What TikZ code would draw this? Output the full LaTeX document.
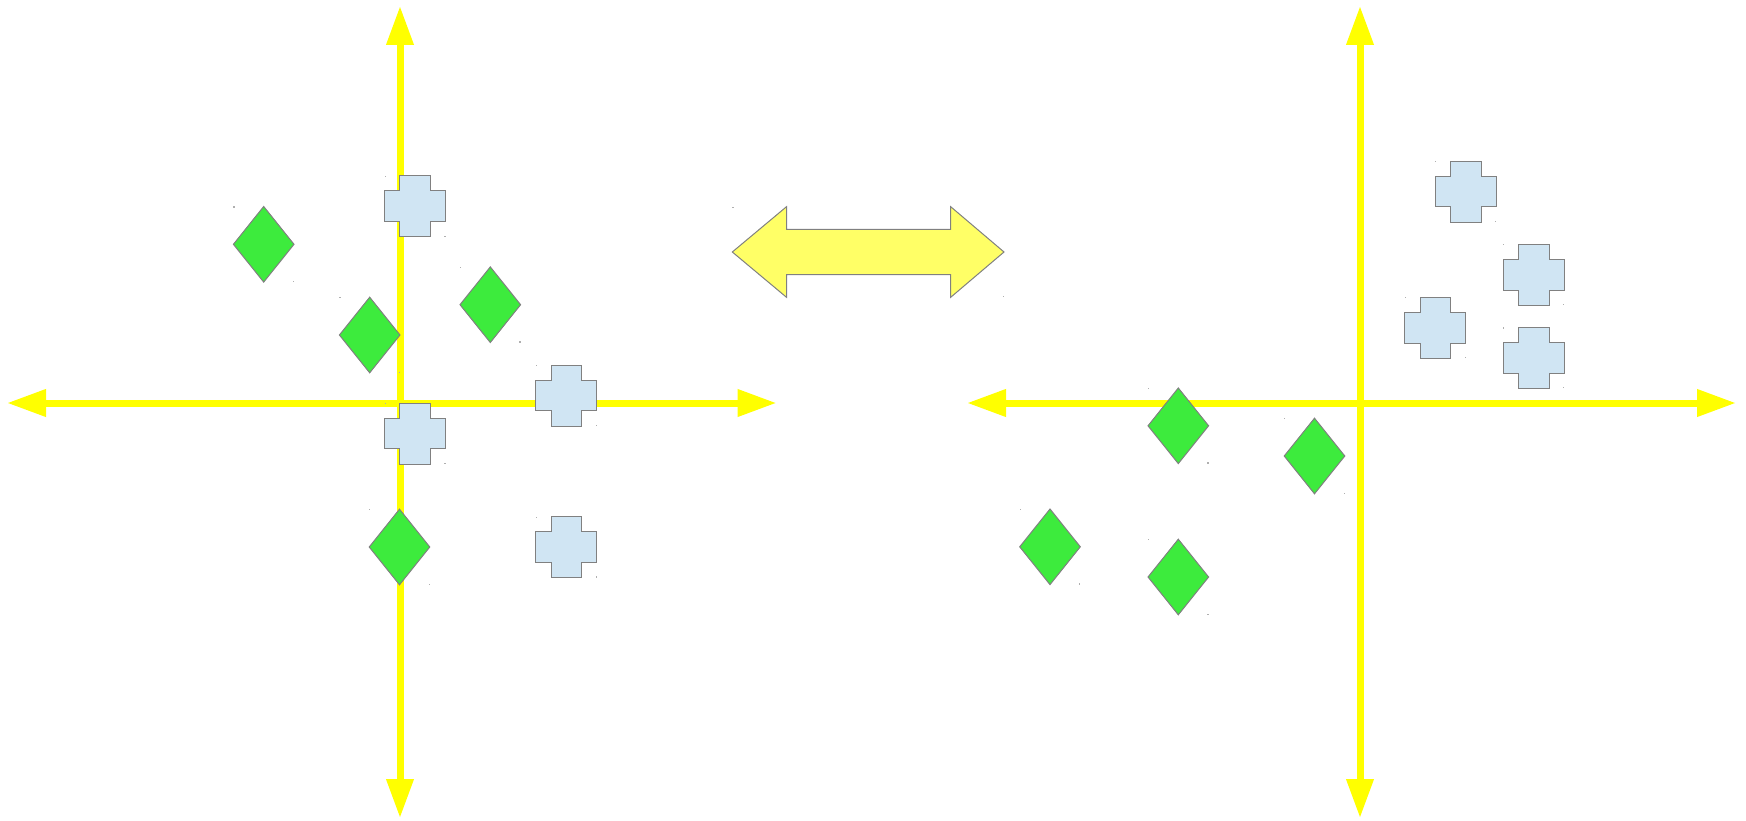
\documentclass[tikz,border=0pt]{standalone}
\usetikzlibrary{arrows.meta}

\definecolor{axisyellow}{RGB}{255,255,0}
\definecolor{leafgreen}{RGB}{61,235,61}
\definecolor{paleblue}{RGB}{208,229,243}
\definecolor{paleyellow}{RGB}{255,255,102}
\definecolor{edgegray}{RGB}{128,128,128}
\definecolor{speck}{RGB}{175,175,175}

\tikzset{
  x=1pt, y=-1pt,
  axisline/.style={draw=axisyellow, line width=7pt,
    {Triangle[length=39pt,width=26pt]}-{Triangle[length=39pt,width=26pt]}},
  shapeedge/.style={draw=edgegray, line width=1pt, line join=miter},
  % small marks left at two corners of each shape's frame
  corners/.style={fill=speck},
  pics/gem/.style={code={
    \path[shapeedge, fill=leafgreen]
      (-30.3,0) -- (0,-37.8) -- (30.3,0) -- (0,37.8) -- cycle;
    \path[corners] (-30.3,-37.8) rectangle +(1.2,1.2);
    \path[corners] (30.3,37.8) rectangle +(-1.2,-1.2);
  }},
  pics/plus/.style={code={
    \path[shapeedge, fill=paleblue]
      (-15.3,-30.5) -- (15.3,-30.5) -- (15.3,-15.3) -- (30.5,-15.3)
      -- (30.5,15.3) -- (15.3,15.3) -- (15.3,30.5) -- (-15.3,30.5)
      -- (-15.3,15.3) -- (-30.5,15.3) -- (-30.5,-15.3) -- (-15.3,-15.3) -- cycle;
    \path[corners] (-30.5,-30.5) rectangle +(1.2,1.2);
    \path[corners] (30.5,30.5) rectangle +(-1.2,-1.2);
  }}
}

\begin{document}
\begin{tikzpicture}
  \useasboundingbox (0,0) rectangle (1746,821);

  % ---------- left coordinate system ----------
  \coordinate (Ltop) at (400,6);
  \coordinate (Lbot) at (400,818);
  \coordinate (Lleft) at (7,403);
  \coordinate (Lright) at (776.5,403);
  \draw[axisline] (Ltop) -- (Lbot);
  \draw[axisline] (Lleft) -- (Lright);

  % ---------- right coordinate system ----------
  \coordinate (Rtop) at (1360,6);
  \coordinate (Rbot) at (1360,818);
  \coordinate (Rleft) at (967,403);
  \coordinate (Rright) at (1736,403);
  \draw[axisline] (Rtop) -- (Rbot);
  \draw[axisline] (Rleft) -- (Rright);

  % ---------- points of the left system ----------
  \coordinate (g1) at (263.7,244.3);
  \coordinate (g2) at (369.7,335);
  \coordinate (g3) at (490.3,304.7);
  \coordinate (g4) at (399.5,547);
  \coordinate (p1) at (415,206.3);
  \coordinate (p2) at (415,433.5);
  \coordinate (p3) at (566.4,395.5);
  \coordinate (p4) at (566.4,547);
  \foreach \c in {g1,g2,g3,g4} \pic at (\c) {gem};
  \foreach \c in {p1,p2,p3,p4} \pic at (\c) {plus};

  % ---------- points of the right system ----------
  \coordinate (h1) at (1178.3,425.8);
  \coordinate (h2) at (1314.5,456);
  \coordinate (h3) at (1178.3,577);
  \coordinate (h4) at (1050,546.8);
  \coordinate (q1) at (1465.7,191.7);
  \coordinate (q2) at (1533.7,274.8);
  \coordinate (q3) at (1435.3,327.7);
  \coordinate (q4) at (1533.7,357.8);
  \foreach \c in {h1,h2,h3,h4} \pic at (\c) {gem};
  \foreach \c in {q1,q2,q3,q4} \pic at (\c) {plus};

  % ---------- double arrow between the two systems ----------
  \coordinate (link) at (868.2,252);
  \path[shapeedge, fill=paleyellow, shift={(link)}]
    (-135.9,0) -- (-81.7,-45.3) -- (-81.7,-22.7) -- (82.5,-22.7)
    -- (82.5,-45.3) -- (135.8,0) -- (82.5,45.3) -- (82.5,22.7)
    -- (-81.7,22.7) -- (-81.7,45.3) -- cycle;
  \path[corners, shift={(link)}] (-135.9,-45.3) rectangle +(1.2,1.2);
  \path[corners, shift={(link)}] (135.8,45.3) rectangle +(-1.2,-1.2);
\end{tikzpicture}
\end{document}
